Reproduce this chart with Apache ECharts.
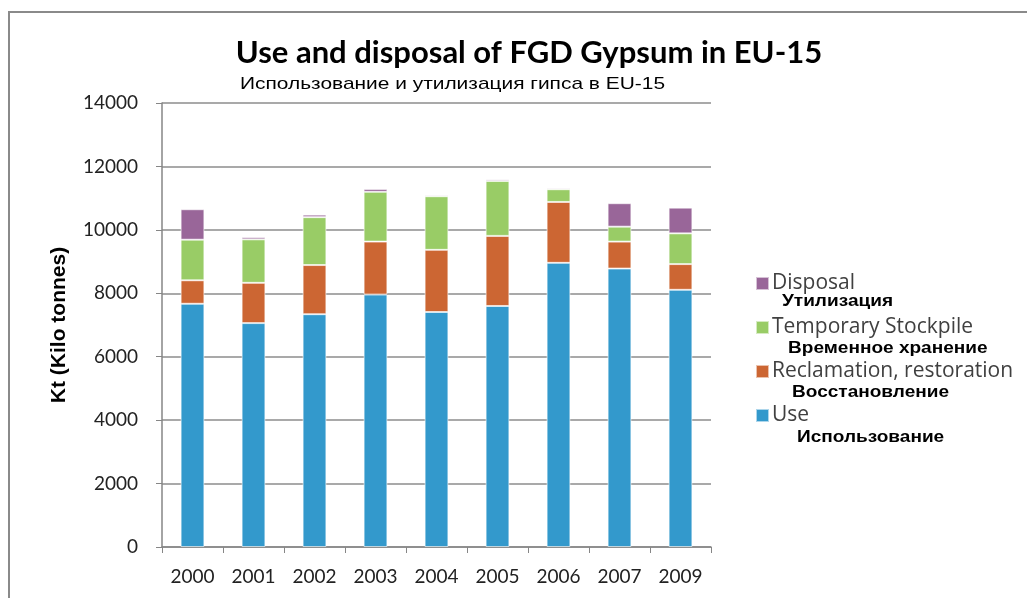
<!DOCTYPE html>
<html>
<head>
<meta charset="utf-8">
<script src="https://cdn.jsdelivr.net/npm/echarts@6/dist/echarts.min.js"></script>
<style>
  html, body { margin: 0; padding: 0; background: #fff; }
  #chart { width: 1027px; height: 598px; }
</style>
</head>
<body>
<div id="chart"></div>
<script>
// data (kilo tonnes)
var years = ['2000', '2001', '2002', '2003', '2004', '2005', '2006', '2007', '2009']
var useData = [7670, 7060, 7340, 7960, 7410, 7600, 8960, 8780, 8110]
var reclamationData = [740, 1270, 1550, 1670, 1960, 2210, 1920, 850, 810]
var stockpileData = [1280, 1370, 1510, 1570, 1690, 1730, 400, 470, 970]
var disposalData = [960, 70, 80, 90, 40, 50, 40, 740, 810]
var yTicks = [0, 2000, 4000, 6000, 8000, 10000, 12000, 14000]

var latin = 'Lato, "Open Sans", sans-serif'
var ruFont = '"Liberation Sans", Arial, sans-serif'

var myChart = echarts.init(document.getElementById('chart'))

function bar (name, data, color) {
  return {
    name: name,
    type: 'bar',
    stack: 'total',
    barWidth: '39%',
    data: data,
    itemStyle: { color: color, borderColor: 'rgba(255,255,255,0.6)', borderWidth: 1 }
  }
}

// russian captions under the legend entries
function ruText (text, left, top) {
  return {
    type: 'text', left: left, top: top, scaleX: 1.12,
    style: { text: text, font: 'bold 17px ' + ruFont, fill: '#000' }
  }
}

var option = {
  animation: false,
  backgroundColor: '#fff',
  title: {
    text: 'Use and disposal of FGD Gypsum in EU-15',
    left: 524,
    top: 32,
    textAlign: 'center',
    textStyle: { fontFamily: latin, fontSize: 31, fontWeight: 'bold', color: '#000' }
  },
  grid: { left: 162, right: 316, top: 103, bottom: 51 },
  legend: {
    orient: 'vertical',
    left: 750,
    top: 268,
    itemWidth: 13,
    itemHeight: 13,
    itemGap: 23,
    icon: 'rect',
    data: ['Disposal', 'Temporary Stockpile', 'Reclamation, restoration', 'Use'],
    textStyle: { fontFamily: '"Open Sans", sans-serif', fontSize: 21, lineHeight: 19, color: '#404040', padding: [0, 0, 0, -2] }
  },
  xAxis: {
    type: 'category',
    data: years,
    axisLine: { lineStyle: { color: '#868686', width: 1.5 } },
    axisTick: { show: true, length: 6, lineStyle: { color: '#868686' } },
    axisLabel: { fontFamily: latin, fontSize: 19, color: '#222', margin: 20 }
  },
  yAxis: {
    type: 'value',
    min: yTicks[0],
    max: yTicks[yTicks.length - 1],
    interval: 2000,
    name: 'Kt (Kilo tonnes)',
    nameLocation: 'middle',
    nameGap: 92,
    nameMoveOverlap: false,
    nameTextStyle: { fontFamily: ruFont, fontSize: 21, fontWeight: 'bold', color: '#000' },
    axisLine: { show: true, lineStyle: { color: '#868686', width: 1.5 } },
    axisTick: { show: true, length: 6, lineStyle: { color: '#868686' } },
    axisLabel: { fontFamily: latin, fontSize: 19, color: '#222', margin: 24, formatter: function (v) { return String(v) } },
    splitLine: { lineStyle: { color: '#8c8c8c', width: 1.5 } }
  },
  graphic: [
    // outer frame of the original chart box
    { type: 'polyline', shape: { points: [[9, 600], [9, 12], [1030, 12]] },
      style: { stroke: '#8a8a8a', lineWidth: 2, fill: null } },
    { type: 'text', left: 240, top: 76, scaleX: 1.23,
      style: { text: 'Использование и утилизация гипса в EU-15', font: '17px ' + ruFont, fill: '#000' } },
    ruText('Утилизация', 782, 293),
    ruText('Временное хранение', 788, 340),
    ruText('Восстановление', 792, 384),
    ruText('Использование', 797, 429)
  ],
  series: [
    bar('Use', useData, '#3399cc'),
    bar('Reclamation, restoration', reclamationData, '#cc6633'),
    bar('Temporary Stockpile', stockpileData, '#99cc66'),
    bar('Disposal', disposalData, '#996699')
  ]
}
myChart.setOption(option)
</script>
</body>
</html>
